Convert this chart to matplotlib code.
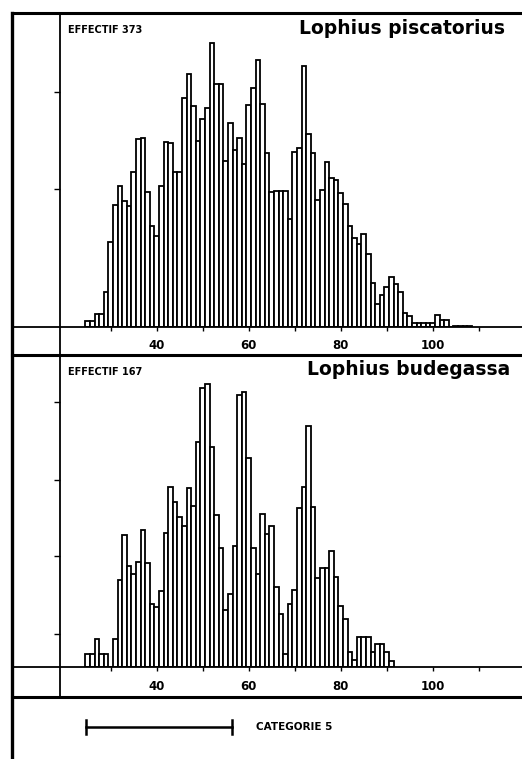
import matplotlib
matplotlib.use("Agg")
import matplotlib.pyplot as plt
from matplotlib.lines import Line2D
from matplotlib.transforms import blended_transform_factory

# Lophius piscatorius, effectif 373 : longueur (cm) et effectif lissé (unités relatives)
pisc_len = list(range(25, 109))
pisc_n = [0.9, 0.9, 2.0, 1.9, 5.3, 12.8, 18.3, 21.1, 18.9, 18.1,
          23.2, 28.2, 28.4, 20.2, 15.1, 13.6, 21.2, 27.7, 27.6, 23.2,
          23.2, 34.4, 37.9, 33.2, 27.9, 31.2, 32.9, 42.6, 36.4, 36.4,
          24.9, 30.6, 26.5, 28.3, 24.4, 33.3, 35.8, 40.0, 33.5, 26.1,
          20.3, 20.4, 20.4, 20.4, 16.2, 26.2, 26.8, 39.2, 29.0, 26.1,
          19.1, 20.5, 24.8, 22.4, 22.0, 20.1, 18.5, 15.2, 13.4, 12.5,
          14.0, 11.0, 6.6, 3.5, 4.8, 6.0, 7.5, 6.5, 5.3, 2.1,
          1.6, 0.6, 0.6, 0.6, 0.6, 0.6, 1.8, 1.0, 1.0, 0.0,
          0.2, 0.2, 0.2, 0.2]
pisc_yticks = [20.7, 35.2]

# Lophius budegassa, effectif 167
bude_len = list(range(25, 92))
bude_n = [1.0, 1.0, 2.1, 1.0, 1.0, 0.0, 2.1, 6.5, 9.9, 7.6,
          7.0, 7.9, 10.3, 7.8, 4.75, 4.5, 5.7, 10.05, 13.5, 12.4,
          11.25, 10.6, 13.4, 12.05, 16.9, 20.9, 21.25, 16.5, 11.4, 8.9,
          4.25, 5.5, 9.1, 20.4, 20.6, 15.7, 8.9, 7.0, 11.5, 10.0,
          10.55, 6.0, 4.0, 1.0, 4.75, 5.8, 11.9, 13.5, 18.1, 12.0,
          6.7, 7.4, 7.4, 8.7, 6.75, 4.6, 3.6, 1.1, 0.5, 2.25,
          2.25, 2.25, 1.1, 1.75, 1.75, 1.1, 0.45]
bude_yticks = [2.5, 8.3, 14.0, 19.9]

x_labels = [40, 60, 80, 100]
x_minor = [30, 50, 70, 90, 110]
categorie_5 = (24.6, 56.4)

W, H = 522, 759


def fx(px):
    return px / W


def fy(py):
    return 1 - py / H


fig = plt.figure(figsize=(W / 100, H / 100), dpi=100)
fig.patch.set_facecolor("white")

panels = [
    (pisc_len, pisc_n, pisc_yticks, 13, 327, 6.667,
     "EFFECTIF 373", "Lophius piscatorius", 299),
    (bude_len, bude_n, bude_yticks, 355, 667, 13.33,
     "EFFECTIF 167", "Lophius budegassa", 307),
]

axes = []
for lens, vals, yt, top, base, unit, eff, name, name_x in panels:
    ax = fig.add_axes([fx(60), fy(base), fx(522) - fx(60), fy(top) - fy(base)])
    ax.bar(lens, vals, width=1.0, facecolor="white", edgecolor="black",
           linewidth=1.3, zorder=2)
    ax.set_xlim(18.98, 119.4)
    ax.set_ylim(0, (base - top) / unit)
    for s in ax.spines.values():
        s.set_visible(False)
    ax.set_xticks(x_labels)
    ax.set_xticklabels([str(v) for v in x_labels], fontsize=8.5,
                       fontweight="bold")
    ax.set_xticks(x_minor, minor=True)
    ax.tick_params(axis="x", which="both", direction="out", length=3,
                   width=1, pad=6)
    ax.set_yticks(yt)
    ax.set_yticklabels([])
    ax.tick_params(axis="y", direction="out", length=4, width=1)
    ax.patch.set_alpha(0)
    axes.append(ax)

    fig.text(fx(68), fy(top + 17), eff, fontsize=7, fontweight="bold",
             ha="left", va="center")
    fig.text(fx(name_x), fy(top + 15), name, fontsize=13.5, fontweight="bold",
             ha="left", va="center")

# cadre et séparations
frame = [
    ((12, 522), (13, 13), 2.2),
    ((12, 12), (13, 759), 2.4),
    ((60, 60), (13, 697), 1.3),
    ((12, 522), (327, 327), 1.3),
    ((12, 522), (355, 355), 2.2),
    ((12, 522), (667, 667), 1.3),
    ((12, 522), (697, 697), 2.2),
]
for xs, ys, lw in frame:
    fig.add_artist(Line2D([fx(x) for x in xs], [fy(y) for y in ys],
                          color="black", linewidth=lw,
                          transform=fig.transFigure))

# barre d'échelle
tr = blended_transform_factory(axes[1].transData, fig.transFigure)
y_bar = fy(727)
fig.add_artist(Line2D(list(categorie_5), [y_bar, y_bar], color="black",
                      linewidth=1.8, transform=tr, clip_on=False))
for c in categorie_5:
    fig.add_artist(Line2D([c, c], [fy(720), fy(734)], color="black",
                          linewidth=1.8, transform=tr, clip_on=False))
fig.text(fx(256), y_bar, "CATEGORIE 5", fontsize=7.5, fontweight="bold",
         ha="left", va="center")

fig.savefig("out.png", dpi=100, facecolor="white")
